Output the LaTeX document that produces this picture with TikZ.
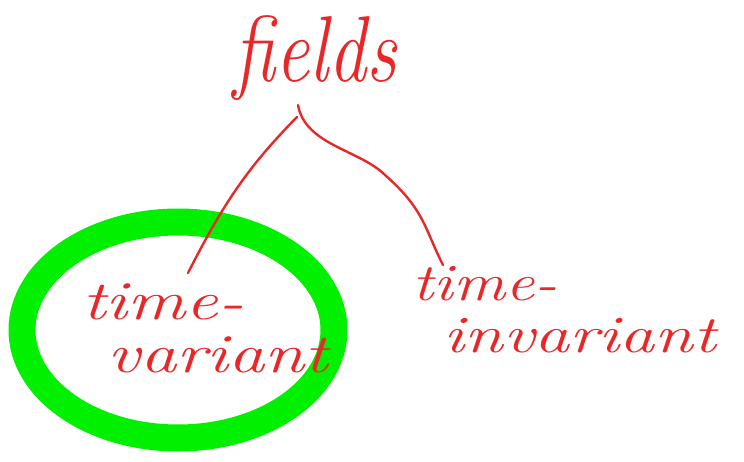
\documentclass[tikz,border=0pt]{standalone}
\usetikzlibrary{calc}
\definecolor{inkred}{RGB}{232,40,40}
\definecolor{hlgreen}{RGB}{0,240,0}
\tikzset{
  ink/.style={text=inkred, font=\fontsize{50}{54}\selectfont\itshape, inner sep=0pt},
  conn/.style={draw=inkred, line width=2.4pt, line cap=round, line join=round},
  ring/.style={draw=hlgreen, line width=27pt}
}
\begin{document}
\begin{tikzpicture}[x=1pt,y=-1pt]
\useasboundingbox (0,0) rectangle (744,462);
\draw[ring] (178,330) ellipse [x radius=156, y radius=108];
\node[ink, font=\fontsize{72}{76}\selectfont\itshape, xscale=1.05, yscale=1.3] (fields) at (315,58) {fields};
\node[ink, xscale=1.45, yscale=1.1] (tv1) at (163,302) {time-};
\node[ink, xscale=1.45, yscale=1.1] (tv2) at (218,355) {variant};
\node[ink, xscale=1.3, yscale=1.05] (ti1) at (485,284) {time-};
\node[ink, xscale=1.4, yscale=1.05] (ti2) at (580,336) {invariant};
\coordinate (fl) at (297,117);
\coordinate (fr) at (298,105);
\coordinate (el) at (188,273);
\coordinate (er) at (443,265);
\draw[conn] (fl) .. controls (250,165) and (225,200) .. (el);
\draw[conn] (fr) .. controls (305,145) and (360,150) .. (385,175) .. controls (425,210) and (425,230) .. (er);
\end{tikzpicture}
\end{document}
